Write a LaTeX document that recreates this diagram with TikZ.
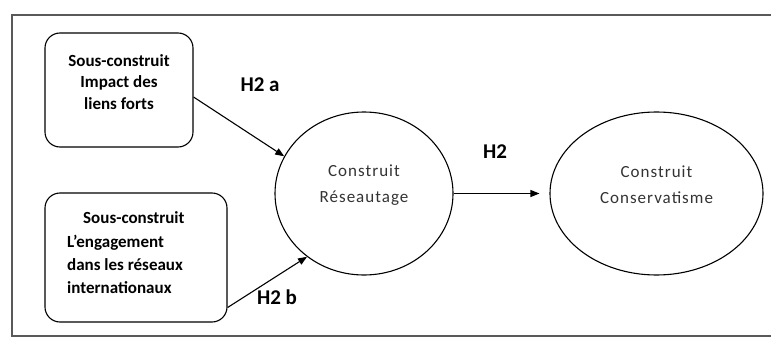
\documentclass[tikz,border=0pt]{standalone}
\usepackage{fontspec}
\setmainfont{Carlito}
\newfontfamily\spacedfont[LetterSpace=6]{Carlito}
\usetikzlibrary{shapes.geometric,arrows.meta}
\tikzset{
  frameline/.style={draw=black!65, line width=1.6pt},
  subbox/.style={draw=black, line width=1.1pt, rounded corners=15pt, inner sep=0pt},
  construct/.style={draw=black, line width=1.1pt, ellipse, inner sep=0pt},
  boxtext/.style={font=\fontsize{17}{21.5}\selectfont\bfseries, inner sep=0pt},
  ctext/.style={font=\spacedfont\fontsize{17}{26}\selectfont, text=black!80, align=center, inner sep=0pt},
  hyp/.style={font=\fontsize{21}{24}\selectfont\bfseries, inner sep=0pt},
  arr/.style={-{Triangle[length=9pt,width=7pt]}, line width=1.1pt}
}
\begin{document}
\begin{tikzpicture}[x=1pt,y=-1pt]
\useasboundingbox (0,0) rectangle (771,345);
\draw[frameline] (771,15) -- (12,15) -- (12,336) -- (771,336);

\node[subbox, minimum width=148pt, minimum height=114pt] (b1) at (119,90) {};
\node[subbox, minimum width=182pt, minimum height=129pt] (b2) at (136,257.5) {};

\node[boxtext, align=center] (t1) at (119,82) {Sous-construit\\Impact des\\liens forts};
\node[boxtext, align=left, anchor=west, font=\fontsize{17}{23.3}\selectfont\bfseries] (t2) at (67,253) {\hspace*{16pt}Sous-construit\\L’engagement\\dans les réseaux\\internationaux};

\node[construct, minimum width=178pt, minimum height=163pt] (c1) at (364,193.5) {};
\node[construct, minimum width=213pt, minimum height=163pt] (c2) at (656.5,193.5) {};

\node[ctext] (t3) at (364,185) {Construit\\Réseautage};
\node[ctext] (t4) at (656.5,185) {Construit\\Conservatisme};

\draw[arr] ([yshift=-7pt]b1.east) -- (c1.155);
\draw[arr] ([yshift=15pt]b2.south east) -- (c1.228);
\draw[arr] (c1.east) -- ([xshift=-10pt]c2.west);

\node[hyp] (h2a) at (260,85) {H2 a};
\node[hyp] (h2b) at (277,297) {H2 b};
\node[hyp] (h2) at (495,152) {H2};
\end{tikzpicture}
\end{document}
